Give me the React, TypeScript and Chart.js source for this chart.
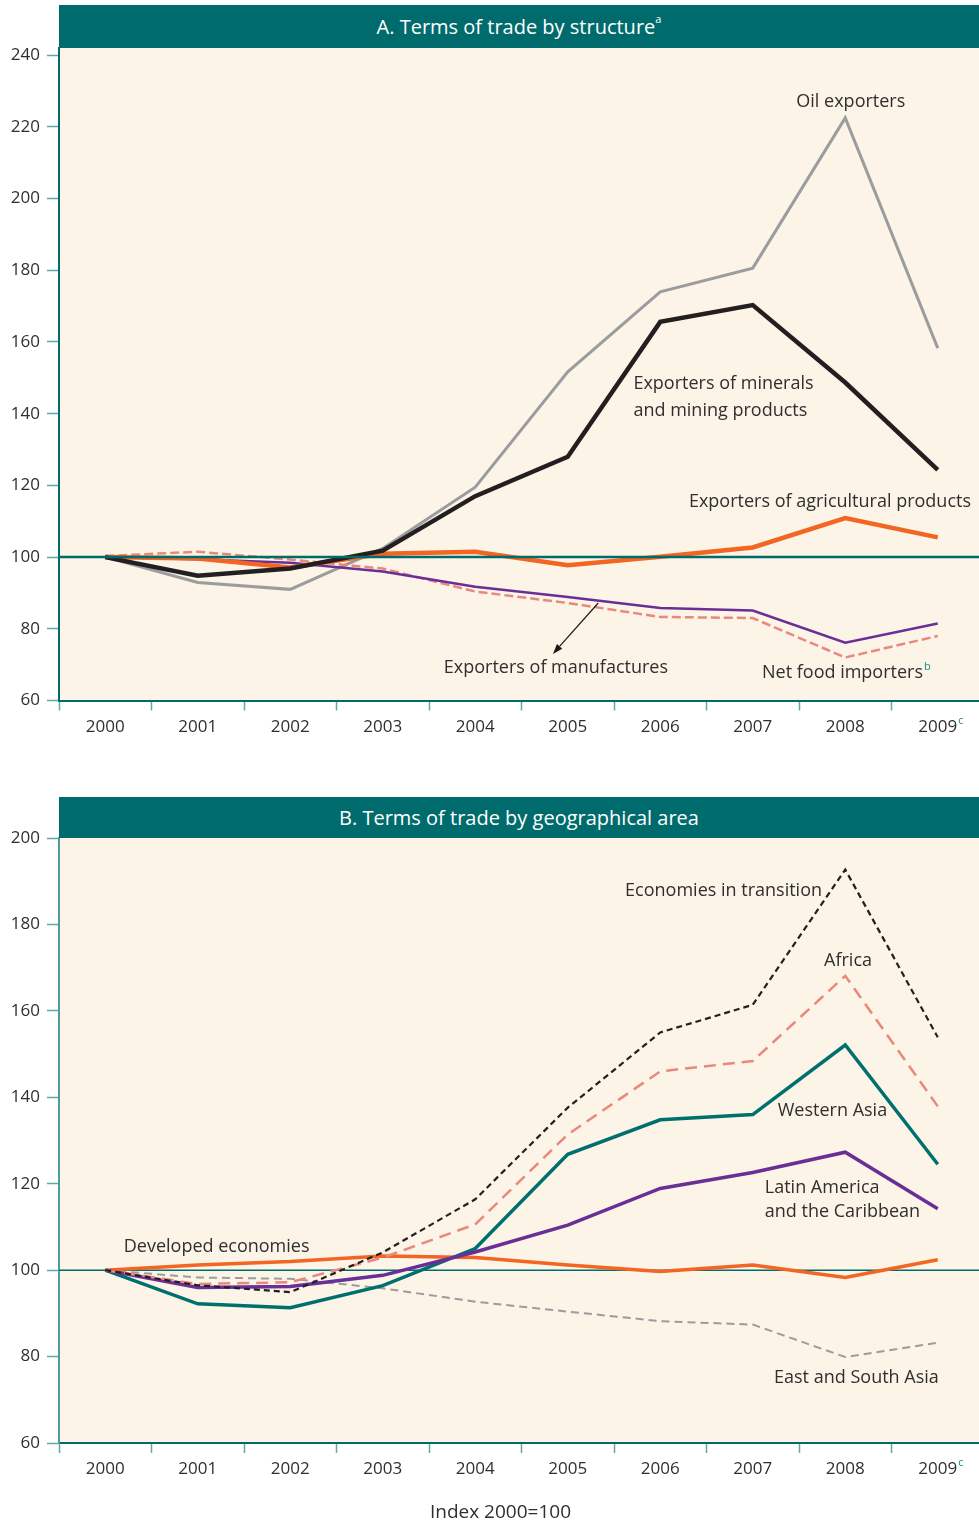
import React, { useEffect, useRef } from 'react';
import { Chart, registerables } from 'chart.js';

Chart.register(...registerables);

const FONT = '"Open Sans", "Noto Sans", sans-serif';
const TEAL = '#006b6d';
const TICK_TEAL = '#5fa9a8';
const SUP_TEAL = '#1b8e8e';
const BEIGE = '#fbf4e7';
const TEXT = '#2f2f2f';

// ---------- Data ----------
const years = ['2000', '2001', '2002', '2003', '2004', '2005', '2006', '2007', '2008', '2009'];
const yTicksA = [60, 80, 100, 120, 140, 160, 180, 200, 220, 240];
const yTicksB = [60, 80, 100, 120, 140, 160, 180, 200];

// Panel A: terms of trade by structure
const oilExporters = [100, 92.9, 91.0, 102.4, 119.5, 151.7, 174.0, 180.6, 222.5, 158.3];
const mineralsExporters = [100, 94.8, 96.8, 101.8, 117.0, 128.0, 165.6, 170.3, 148.7, 124.3];
const agriculturalExporters = [100, 99.6, 97.1, 100.9, 101.5, 97.7, 100.1, 102.7, 110.9, 105.5];
const manufacturesExporters = [100, 99.4, 98.4, 96.0, 91.7, 88.9, 85.8, 85.1, 76.1, 81.5];
const netFoodImporters = [100.3, 101.5, 99.3, 96.8, 90.4, 87.2, 83.3, 83.0, 72.0, 78.0];

// Panel B: terms of trade by geographical area
const economiesInTransition = [100, 96.5, 94.9, 104.1, 116.4, 137.6, 155.0, 161.4, 192.7, 153.9];
const africa = [100, 96.8, 97.2, 102.9, 110.6, 131.4, 146.0, 148.4, 168.1, 137.9];
const westernAsia = [100, 92.2, 91.3, 96.4, 105.0, 126.8, 134.8, 136.0, 152.1, 124.5];
const latinAmerica = [100, 96.0, 96.2, 98.8, 104.2, 110.4, 118.9, 122.6, 127.3, 114.2];
const developedEconomies = [100, 101.2, 102.0, 103.3, 102.9, 101.2, 99.7, 101.2, 98.3, 102.4];
const eastSouthAsia = [100, 98.3, 98.0, 95.8, 92.7, 90.4, 88.2, 87.4, 79.9, 83.2];

// ---------- Annotations (category index, value) ----------
const notesA = [
  { text: 'Oil exporters', xi: 8.06, yv: 226.9, align: 'center' },
  { text: 'Exporters of minerals', xi: 5.71, yv: 148.3, align: 'left' },
  { text: 'and mining products', xi: 5.71, yv: 140.75, align: 'left' },
  { text: 'Exporters of agricultural products', xi: 6.31, yv: 115.4, align: 'left' },
  { text: 'Exporters of manufactures', xi: 3.66, yv: 69.1, align: 'left' },
  { text: 'Net food importers', xi: 7.1, yv: 67.7, align: 'left', sup: 'b' },
];
const arrowsA = [{ from: [5.33, 87.2], to: [4.84, 73.0] }];

const notesB = [
  { text: 'Economies in transition', xi: 5.62, yv: 187.7, align: 'left' },
  { text: 'Africa', xi: 8.03, yv: 171.5, align: 'center' },
  { text: 'Western Asia', xi: 7.27, yv: 136.8, align: 'left' },
  { text: 'Latin America', xi: 7.13, yv: 119.0, align: 'left' },
  { text: 'and the Caribbean', xi: 7.13, yv: 113.5, align: 'left' },
  { text: 'Developed economies', xi: 0.2, yv: 105.4, align: 'left' },
  { text: 'East and South Asia', xi: 7.23, yv: 75.0, align: 'left' },
];

// ---------- Plugins ----------
const backgroundPlugin = {
  id: 'plotBg',
  beforeDraw(chart: any) {
    const { ctx, chartArea } = chart;
    ctx.save();
    ctx.fillStyle = BEIGE;
    ctx.fillRect(chartArea.left, chartArea.top, chartArea.right - chartArea.left, chartArea.bottom - chartArea.top);
    ctx.restore();
  },
};

function drawRef(chart: any, opts: any) {
  const { ctx, chartArea } = chart;
  const y = chart.scales.y.getPixelForValue(opts.value);
  ctx.save();
  ctx.strokeStyle = opts.color;
  ctx.lineWidth = opts.width;
  ctx.beginPath();
  ctx.moveTo(chartArea.left, y);
  ctx.lineTo(chartArea.right, y);
  ctx.stroke();
  ctx.restore();
}

const refLinePlugin = {
  id: 'refLine',
  beforeDatasetsDraw(chart: any, _a: any, opts: any) {
    if (!opts.onTop) drawRef(chart, opts);
  },
  afterDatasetsDraw(chart: any, _a: any, opts: any) {
    if (opts.onTop) drawRef(chart, opts);
  },
};

const notesPlugin = {
  id: 'notes',
  afterDraw(chart: any, _a: any, opts: any) {
    const { ctx } = chart;
    const x = chart.scales.x;
    const y = chart.scales.y;
    ctx.save();
    ctx.textBaseline = 'middle';
    for (const n of opts.items || []) {
      ctx.font = `18px ${FONT}`;
      ctx.fillStyle = TEXT;
      ctx.textAlign = n.align;
      const px = x.getPixelForValue(n.xi);
      const py = y.getPixelForValue(n.yv);
      ctx.fillText(n.text, px, py);
      if (n.sup) {
        const w = ctx.measureText(n.text).width;
        const endX = n.align === 'center' ? px + w / 2 : px + w;
        ctx.font = `11px ${FONT}`;
        ctx.fillStyle = SUP_TEAL;
        ctx.textAlign = 'left';
        ctx.fillText(n.sup, endX + 1, py - 6);
      }
    }
    for (const a of opts.arrows || []) {
      const x1 = x.getPixelForValue(a.from[0]);
      const y1 = y.getPixelForValue(a.from[1]);
      const x2 = x.getPixelForValue(a.to[0]);
      const y2 = y.getPixelForValue(a.to[1]);
      const ang = Math.atan2(y2 - y1, x2 - x1);
      const head = 10;
      const bx = x2 - head * Math.cos(ang);
      const by = y2 - head * Math.sin(ang);
      ctx.strokeStyle = '#1a1a1a';
      ctx.fillStyle = '#1a1a1a';
      ctx.lineWidth = 1.2;
      ctx.beginPath();
      ctx.moveTo(x1, y1);
      ctx.lineTo(bx, by);
      ctx.stroke();
      const nx = -Math.sin(ang) * 3.5;
      const ny = Math.cos(ang) * 3.5;
      ctx.beginPath();
      ctx.moveTo(x2, y2);
      ctx.lineTo(bx + nx, by + ny);
      ctx.lineTo(bx - nx, by - ny);
      ctx.closePath();
      ctx.fill();
    }
    if (opts.tickSup) {
      const i = opts.tickSup.index;
      const lx = x.getPixelForTick(i);
      ctx.font = `17px ${FONT}`;
      const w = ctx.measureText(years[i]).width;
      ctx.font = `11px ${FONT}`;
      ctx.fillStyle = SUP_TEAL;
      ctx.textAlign = 'left';
      ctx.textBaseline = 'middle';
      ctx.fillText(opts.tickSup.text, lx + w / 2 + 1, x.top + 20);
    }
    ctx.restore();
  },
};

// ---------- Config builder ----------
type Series = { label: string; data: number[]; color: string; width: number; dash?: number[] };

function buildConfig(spec: {
  series: Series[];
  min: number;
  max: number;
  yTicks: number[];
  xAxisHeight: number;
  notes: any[];
  arrows: any[];
  ref: any;
  leftBorder: string;
}) {
  return {
    type: 'line' as const,
    data: {
      labels: years,
      datasets: spec.series.map((s) => ({
        label: s.label,
        data: s.data,
        borderColor: s.color,
        backgroundColor: s.color,
        borderWidth: s.width,
        borderDash: s.dash || [],
        pointRadius: 0,
        pointHoverRadius: 0,
        tension: 0,
        fill: false,
        borderJoinStyle: 'miter' as const,
        borderCapStyle: 'butt' as const,
      })),
    },
    options: {
      animation: false as const,
      responsive: false,
      maintainAspectRatio: false,
      events: [],
      layout: { padding: { top: 48, left: 0, right: 0, bottom: 0 } },
      plugins: {
        legend: { display: false },
        tooltip: { enabled: false },
        title: { display: false },
        refLine: spec.ref,
        notes: { items: spec.notes, arrows: spec.arrows, tickSup: { index: 9, text: 'c' } },
      },
      scales: {
        x: {
          type: 'category' as const,
          offset: true,
          grid: {
            offset: true,
            drawOnChartArea: false,
            drawTicks: true,
            tickLength: 10,
            tickColor: TICK_TEAL,
            tickWidth: 1.5,
            color: TICK_TEAL,
          },
          border: { display: true, color: TEAL, width: 2 },
          ticks: {
            color: TEXT,
            font: { family: FONT, size: 17 },
            padding: 6,
            maxRotation: 0,
            autoSkip: false,
          },
          afterFit: (s: any) => {
            s.height = spec.xAxisHeight;
          },
        },
        y: {
          type: 'linear' as const,
          min: spec.min,
          max: spec.max,
          afterBuildTicks: (s: any) => {
            s.ticks = spec.yTicks.map((v) => ({ value: v }));
          },
          grid: {
            drawOnChartArea: false,
            drawTicks: true,
            tickLength: 12,
            tickColor: TICK_TEAL,
            tickWidth: 1.5,
            color: TICK_TEAL,
          },
          border: { display: true, color: spec.leftBorder, width: 2 },
          ticks: {
            color: TEXT,
            font: { family: FONT, size: 17 },
            padding: 7,
          },
          afterFit: (s: any) => {
            s.width = 59;
          },
        },
      },
    },
    plugins: [backgroundPlugin, refLinePlugin, notesPlugin],
  };
}

const specA = {
  series: [
    { label: 'Exporters of minerals and mining products', data: mineralsExporters, color: '#231f20', width: 4.5 },
    { label: 'Exporters of agricultural products', data: agriculturalExporters, color: '#f26522', width: 4.5 },
    { label: 'Exporters of manufactures', data: manufacturesExporters, color: '#6a2e97', width: 2.5 },
    { label: 'Net food importers', data: netFoodImporters, color: '#e8897c', width: 2.5, dash: [9, 4] },
    { label: 'Oil exporters', data: oilExporters, color: '#9b9c9e', width: 3 },
  ],
  min: 60,
  max: 242,
  yTicks: yTicksA,
  xAxisHeight: 49.5,
  notes: notesA,
  arrows: arrowsA,
  ref: { value: 100, color: TEAL, width: 2.5, onTop: true },
  leftBorder: TEAL,
};

const specB = {
  series: [
    { label: 'Economies in transition', data: economiesInTransition, color: '#231f20', width: 2.2, dash: [6, 4] },
    { label: 'Africa', data: africa, color: '#e8897c', width: 2.5, dash: [12, 7] },
    { label: 'Latin America and the Caribbean', data: latinAmerica, color: '#6a2e97', width: 3.5 },
    { label: 'Western Asia', data: westernAsia, color: '#00706f', width: 3.5 },
    { label: 'Developed economies', data: developedEconomies, color: '#f26522', width: 3.5 },
    { label: 'East and South Asia', data: eastSouthAsia, color: '#9b9c9e', width: 2, dash: [8, 5] },
  ],
  min: 60,
  max: 200,
  yTicks: yTicksB,
  xAxisHeight: 57,
  notes: notesB,
  arrows: [],
  ref: { value: 100, color: TEAL, width: 1.5, onTop: false },
  leftBorder: '#4f9a9a',
};

function ChartCanvas({ top, width, height, spec }: { top: number; width: number; height: number; spec: any }) {
  const ref = useRef<HTMLCanvasElement>(null);
  useEffect(() => {
    const chart = new Chart(ref.current as HTMLCanvasElement, buildConfig(spec) as any);
    return () => chart.destroy();
  }, []);
  return (
    <canvas
      ref={ref}
      width={width}
      height={height}
      style={{ position: 'absolute', left: 0, top, width, height, display: 'block' }}
    />
  );
}

function Header({ top, height, text, sup }: { top: number; height: number; text: string; sup?: string }) {
  return (
    <div
      style={{
        position: 'absolute',
        left: 59,
        top,
        width: 920,
        height,
        background: TEAL,
        color: '#ffffff',
        fontFamily: FONT,
        fontSize: 20,
        display: 'flex',
        alignItems: 'center',
        justifyContent: 'center',
        whiteSpace: 'nowrap',
      }}
    >
      <span>
        {text}
        {sup ? <sup style={{ fontSize: 11, verticalAlign: 'top', position: 'relative', top: -2 }}>{sup}</sup> : null}
      </span>
    </div>
  );
}

export default function App() {
  return (
    <div
      style={{
        position: 'absolute',
        left: 0,
        top: 0,
        width: 979,
        height: 1524,
        overflow: 'hidden',
        background: '#ffffff',
        fontFamily: FONT,
      }}
    >
      <ChartCanvas top={0} width={984} height={750} spec={specA} />
      <Header top={5} height={43} text="A. Terms of trade by structure" sup="a" />
      <ChartCanvas top={790} width={984} height={710} spec={specB} />
      <Header top={797} height={41} text="B. Terms of trade by geographical area" />
      <div
        style={{
          position: 'absolute',
          left: 380,
          width: 241,
          top: 1499,
          lineHeight: '24px',
          textAlign: 'center',
          fontSize: 19,
          color: TEXT,
          fontFamily: FONT,
        }}
      >
        Index 2000=100
      </div>
    </div>
  );
}
